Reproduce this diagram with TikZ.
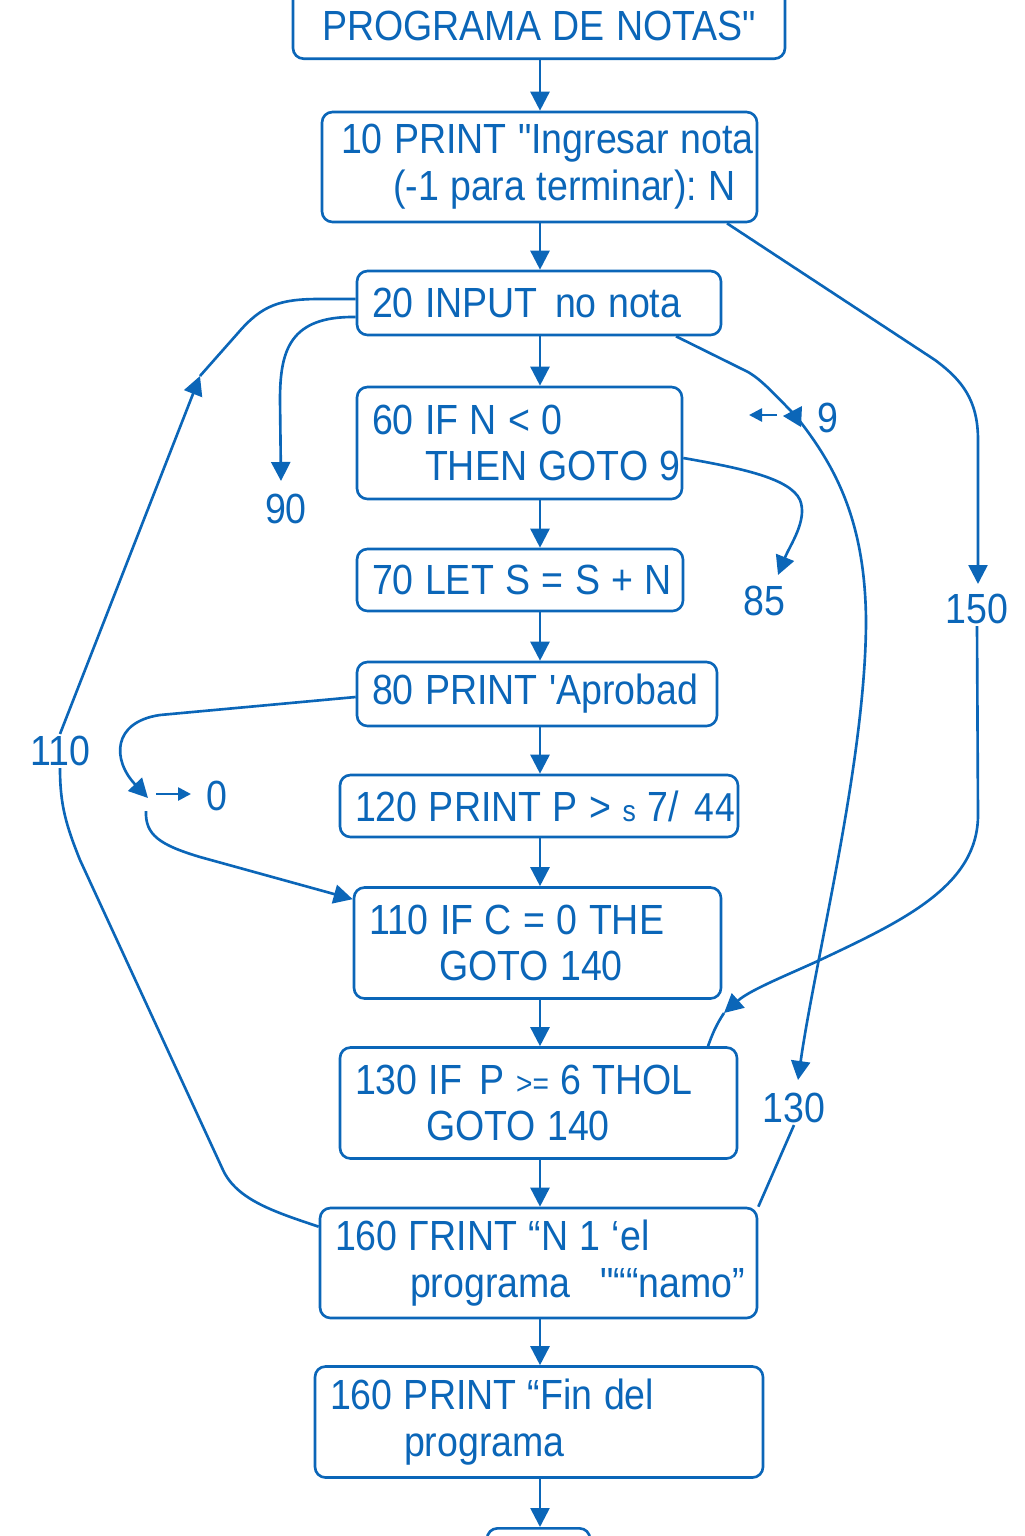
\documentclass[tikz,border=0pt]{standalone}
\usepackage{fontspec}
\setmainfont{Liberation Sans}[FakeStretch=0.89,Ligatures=TeXOff]
\newfontfamily\codemono{Liberation Mono}[FakeStretch=0.85,Ligatures=TeXOff]
\usetikzlibrary{arrows.meta,calc}
\definecolor{progblue}{HTML}{0B66B8}
\newcommand\boxfont{\fontsize{24}{26.7}\selectfont}
\tikzset{
  codebox/.style={draw=progblue, rounded corners=6pt, line width=1.5pt, text=progblue,
    font=\boxfont, align=left, inner xsep=3mm, inner ysep=0pt,
    execute at begin node={\spaceskip=0.27em plus 0.05em\relax\xspaceskip=0.27em\relax}},
  lbl/.style={text=progblue, font=\boxfont, inner sep=1pt},
  line/.style={draw=progblue, line width=1.5pt},
  flow/.style={line, -{Triangle[length=3.8mm,width=3.8mm]}},
  tick/.style={line, -{Triangle[length=2.6mm,width=2.6mm]}},
}
\begin{document}
\begin{tikzpicture}[x=0.2mm, y=-0.2mm]
\useasboundingbox (0,0) rectangle (1024,1536);
\coordinate (spine) at (540,0);
% boxes
\node[codebox, anchor=south, minimum width=98.4mm, text height=20mm, text depth=0pt, inner ysep=3.6mm] (b0) at (539,60) {PROGRAMA DE NOTAS"};
\node[codebox, text width=81mm, minimum height=22mm] (b10) at (539.5,167) {\mbox{\hspace*{0.8mm}10 PRINT "Ingresar nota}\\\mbox{\hspace*{11.2mm}(-1 para terminar): N}};
\node[codebox, text width=66.8mm, minimum height=12.8mm] (b20) at (539,303) {\mbox{20 INPUT\hspace{1.2mm} no nota}};
\node[codebox, text width=59mm, minimum height=22.4mm] (b60) at (519.5,443) {\mbox{60 IF N < 0}\\\mbox{\hspace*{10.6mm}THEN GOTO 9}};
\node[codebox, text width=59.2mm, minimum height=12.4mm] (b70) at (520,580) {\mbox{70 LET S = S + N}};
\node[codebox, text width=66mm, minimum height=12.8mm] (b80) at (537,694) {\mbox{80 PRINT 'Aprobad}};
\node[codebox, text width=73.6mm, minimum height=12.4mm] (b120) at (539,806) {\mbox{120 PRINT P > {\fontsize{17}{17}\selectfont s} 7/ \hspace{0.6mm}{\codemono 44}}};
\node[codebox, text width=67.4mm, minimum height=22.2mm] (b110) at (537.5,943) {\mbox{110 IF C = 0 THE}\\\mbox{\hspace*{14mm}GOTO 140}};
\node[codebox, text width=73.4mm, minimum height=22.2mm] (b130) at (538.5,1103) {\mbox{130 IF\hspace{1.2mm} P {\fontsize{18}{18}\selectfont >=} 6 THOL}\\\mbox{\hspace*{14.2mm}GOTO 140}};
\node[codebox, text width=81.4mm, minimum height=22mm] (b160a) at (538.5,1263) {\mbox{160 ΓRINT “N 1 ‘el}\\\mbox{\hspace*{15mm}programa\hspace{6mm}"““namo”}};
\node[codebox, text width=83.6mm, minimum height=22.2mm] (b160b) at (539,1422) {\mbox{160 PRINT “Fin del}\\\mbox{\hspace*{14.8mm}programa}};
\node[codebox, anchor=north, minimum width=20.6mm, minimum height=20mm] (bend) at (538.5,1527) {};
\foreach \a/\b in {b0/b10,b10/b20,b20/b60,b60/b70,b70/b80,b80/b120,b120/b110,b110/b130,b130/b160a,b160a/b160b,b160b/bend}
  \draw[flow] (\a.south -| spine) -- (\b.north -| spine);
% labels
\node[lbl] (l90) at (286,509) {90};
\node[lbl] (l85) at (764,601) {85};
\node[lbl] (l9) at (828,418) {9};
\node[lbl] (l150) at (977,609) {150};
\node[lbl] (l110) at (60,751) {110};
\node[lbl] (l130) at (794,1108) {130};
\node[lbl] (l0) at (217,796) {0};
\coordinate (t90) at (281,481);
\coordinate (t85) at (778,575);
\coordinate (t9) at (795,415);
\coordinate (t150) at (978,584);
\coordinate (t150b) at (724,1013);
\coordinate (t110) at (200,376);
\coordinate (t130) at (798,1080);
\coordinate (t0) at (148,798);
\coordinate (s0) at (146,811);
\coordinate (k9a) at (777,415);
\coordinate (k9b) at (749,415);
\coordinate (k0a) at (156,794);
\coordinate (k0b) at (191,794);
% 150
\draw[flow] ($(b10.south)+(187.5,0)$) -- (935,360) .. controls (962,380) and (978,400) .. (978,440) -- (t150);
\draw[flow] (l150.south) -- (978,815) .. controls (978,885) and (905,920) .. (820,960) .. controls (785,976) and (750,990) .. (t150b);
\draw[line] ($(b130.north)+(169.5,0)$) .. controls (712,1035) and (716,1025) .. (t150b);
% 9 et 130
\draw[line] ($(b20.south)+(137,0)$) -- (748,372) .. controls (762,380) and (775,395) .. (t9);
\fill[progblue] (783,416) -- (802,406) -- (801,427) -- cycle;
\draw[tick] (k9a) -- (k9b);
\draw[flow] (t9) .. controls (835,465) and (865,520) .. (866,620) .. controls (866,760) and (815,960) .. (t130);
\draw[line] (l130.south) -- (b160a.north east);
% 85
\draw[flow] ($(b60.east)+(0,15)$) .. controls (740,468) and (790,478) .. (800,500) .. controls (808,520) and (790,545) .. (t85);
% 90
\draw[flow] ($(b20.west)+(0,14)$) .. controls (290,316) and (280,350) .. (280,400) -- (t90);
% 110
\draw[flow] (l110.north) -- (t110);
\draw[line] (t110) -- (238,333) .. controls (262,305) and (280,299) .. (320,299) -- ($(b20.west)+(0,-4)$);
\draw[line] (l110.south) .. controls (60,805) and (66,825) .. (80,860) -- (223,1170) .. controls (237,1200) and (275,1212) .. ($(b160a.north west)+(0,20)$);
% 0
\draw[flow] ($(b80.west)+(0,3)$) -- (160,715) .. controls (112,722) and (112,760) .. (t0);
\draw[tick] (k0a) -- (k0b);
\draw[flow] (s0) .. controls (145,835) and (160,845) .. (200,857) -- ($(b110.north west)+(0,13)$);
\end{tikzpicture}
\end{document}
